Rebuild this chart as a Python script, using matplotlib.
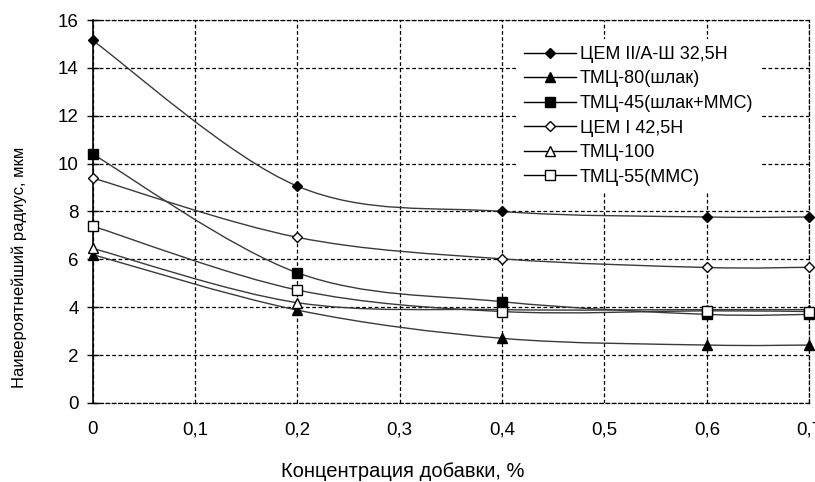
import numpy as np
import matplotlib
matplotlib.use("Agg")
import matplotlib.pyplot as plt
from matplotlib.path import Path
from matplotlib.patches import PathPatch
from matplotlib.lines import Line2D

plt.rcParams['font.family'] = ['Liberation Sans', 'DejaVu Sans']

x = [0.0, 0.2, 0.4, 0.6, 0.7]
labels = ["ЦЕМ II/А-Ш 32,5Н", "ТМЦ-80(шлак)", "ТМЦ-45(шлак+ММС)",
          "ЦЕМ I 42,5Н", "ТМЦ-100", "ТМЦ-55(ММС)"]
cem2 = [15.15, 9.06, 8.0, 7.77, 7.77]
tmc80 = [6.2, 3.88, 2.70, 2.42, 2.42]
tmc45 = [10.4, 5.44, 4.23, 3.70, 3.70]
cem1 = [9.4, 6.92, 6.02, 5.66, 5.67]
tmc100 = [6.46, 4.19, 3.9, 3.9, 3.9]
tmc55 = [7.39, 4.72, 3.82, 3.85, 3.82]
series = [cem2, tmc80, tmc45, cem1, tmc100, tmc55]
markers = ['D', '^', 's', 'D', '^', 's']
filled = [True, True, True, False, False, False]
msizes = [5.5, 6.5, 7, 5.5, 6.5, 7]
xticks = [0, 0.1, 0.2, 0.3, 0.4, 0.5, 0.6, 0.7]
xticklabels = ["0", "0,1", "0,2", "0,3", "0,4", "0,5", "0,6", "0,7"]
yticks = [0, 2, 4, 6, 8, 10, 12, 14, 16]

line_color = '#3a3a3a'
dash = (0, (3, 2))

fig = plt.figure(figsize=(8.15, 4.82), dpi=100)
ax = fig.add_axes([0.1135, 0.164, 0.8795, 0.7945])
ax.set_xlim(0, 0.7)
ax.set_ylim(0, 16)


def smooth_path(xs, ys):
    # Bezier (Catmull-Rom style) through the data points, like Excel smoothing
    pts = np.column_stack([xs, ys]).astype(float)
    n = len(pts)
    verts = [pts[0]]
    codes = [Path.MOVETO]
    for i in range(n - 1):
        p0 = pts[i - 1] if i > 0 else pts[i]
        p1 = pts[i]
        p2 = pts[i + 1]
        p3 = pts[i + 2] if i + 2 < n else pts[i + 1]
        c1 = p1 + (p2 - p0) / 6.0
        c2 = p2 - (p3 - p1) / 6.0
        verts += [c1, c2, p2]
        codes += [Path.CURVE4] * 3
    return Path(verts, codes)


handles = []
for ys, m, f, ms, lab in zip(series, markers, filled, msizes, labels):
    patch = PathPatch(smooth_path(x, ys), facecolor='none', edgecolor=line_color,
                      lw=1.0, zorder=3)
    ax.add_patch(patch)
    fc = 'black' if f else 'white'
    ax.plot(x, ys, linestyle='none', marker=m, markersize=ms,
            markerfacecolor=fc, markeredgecolor='black', markeredgewidth=1.0,
            zorder=4, clip_on=False)
    handles.append(Line2D([], [], color='black', lw=1.0, marker=m, markersize=ms,
                          markerfacecolor=fc, markeredgecolor='black',
                          markeredgewidth=1.0, label=lab))

ax.set_xticks(xticks)
ax.set_xticklabels(xticklabels)
ax.set_yticks(yticks)
ax.grid(True, color='black', linestyle=dash, linewidth=0.9, zorder=1)
ax.set_axisbelow(True)
for s in ['top', 'right', 'bottom']:
    ax.spines[s].set_linestyle(dash)
    ax.spines[s].set_linewidth(0.9)
ax.spines['left'].set_linewidth(1.2)
ax.tick_params(axis='y', direction='inout', length=8, width=1, labelsize=13.5, pad=6)
ax.tick_params(axis='x', length=0, labelsize=13.5, pad=13)

ax.set_ylabel("Наивероятнейший радиус, мкм", fontsize=12)
ax.yaxis.set_label_coords(-0.092, 0.355)
ax.set_xlabel("Концентрация добавки, %", fontsize=14.5)
ax.xaxis.set_label_coords(0.433, -0.155)

leg = ax.legend(handles=handles, loc='upper left', bbox_to_anchor=(0.58, 0.975),
                frameon=True, fontsize=13, handlelength=2.85, handletextpad=0.2,
                labelspacing=0.42, borderpad=0.4, fancybox=False)
leg.get_frame().set_facecolor('white')
leg.get_frame().set_edgecolor('none')
leg.get_frame().set_alpha(1)
leg.set_zorder(5)

fig.savefig("out.png", dpi=100)
